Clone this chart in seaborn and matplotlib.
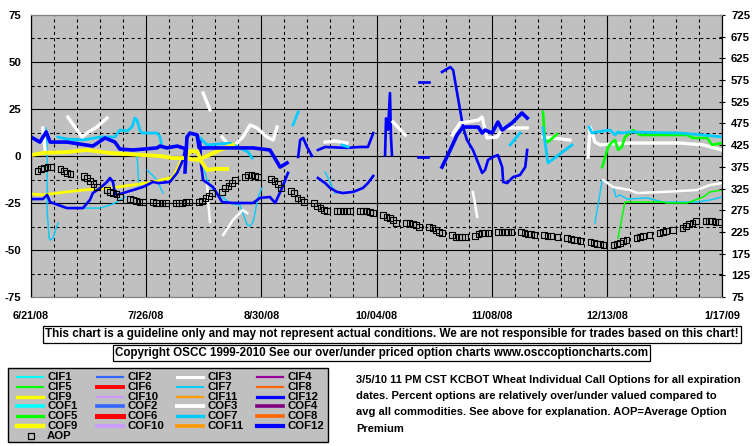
import numpy as np
import pandas as pd
import matplotlib
matplotlib.use("Agg")
import matplotlib.pyplot as plt
import seaborn as sns
from matplotlib.lines import Line2D
from matplotlib.patches import Rectangle

nan = np.nan
start = pd.Timestamp("2008-06-21")

# axis ticks
xtick_days = [0, 35, 70, 105, 140, 175, 210]
xtick_labels = ["6/21/08", "7/26/08", "8/30/08", "10/04/08", "11/08/08", "12/13/08", "1/17/09"]
left_ticks = [-75, -50, -25, 0, 25, 50, 75]
right_ticks = list(range(75, 726, 50))

# series: days since 6/21/08, percent value (nan = break)
cof12_day = [0, 2.7, 4.6, 5.8, 10.9, 18.8, 22.5, 25.5, 27, 31, 38.3, 39.2, 41.3, 44.4, 46.2, nan,
             46.8, 47.4, 48.3, 50.5, 51.1, 51.4, 67.5, 72.6, 74.8, 75.7, 77.8, nan,
             124.9, 127.4, 129.5, 131.3, 135.9, 137.1, 138, 140.1, 141.9, 143.2, 146.2, 149.2, 150.8]
cof12_val = [10.1, 7.4, 12.8, 7.4, 7.4, 5.3, 9.6, 7.4, 3.7, 3.2, 4.3, 5.3, 4.3, 5.3, 4.3, nan,
             -8.5, 10.1, 12.2, 11.2, 4.3, 4.3, 4.3, 3.2, -3.2, -5.9, -3.7, nan,
             -5.9, 3.2, 11.2, 15.4, 15.4, 12.2, 13.8, 12.2, 18.1, 13.8, 17.6, 22.9, 20.2]

cif12_day = [0, 3.6, 4.9, 5.8, 10.9, 15.8, 17.9, 18.8, 21, 23.1, 24, 24.9, 25.5, 26.1, 28, 31, 34,
             37.1, 38.6, 42.2, 44.4, 46.2, 46.8, nan,
             51.4, 51.7, 52.3, 55.3, 58.1, 61.4, 67.5, 69.6, 72.6, 74.2, 76.3, 78.1, nan,
             81.2, 81.8, 82.7, 83.9, 85.4, nan,
             87.2, 89.4, 96, 100, 102.4, 104, nan,
             87.2, 89.4, 90.9, 93, 94.8, 97.9, 100.9, 102.4, 104, nan,
             107.6, 107.9, 108.5, 109.1, 109.4, 109.7, nan,
             117.9, 121, nan, 117.6, 120.7, nan,
             124.9, 127.4, 128.3, 129.5, 130.4, 131.3, 132.5, 134.3, 135.9, 137.1, 138, 138.9, 140.4,
             141.9, 143.2, 143.5, 144.7, 146.5, 148.6, 150.2, 150.8]
cif12_val = [-22.9, -22.9, -20.7, -24.5, -27.7, -27.7, -23.4, -19.7, -17, -13.8, -11.7, -13.8, -19.7,
             -20.7, -19.7, -18.1, -16.5, -13.8, -14.4, -13.8, -9, -2.1, 3.2, nan,
             8.5, -4.8, -12.8, -16.5, -24.5, -25, -25, -22.3, -21.8, -25, -17, -9, nan,
             -0.5, 8.5, 9.6, 4.8, 0, nan,
             3.2, 4.8, 4.3, 4.8, 4.8, 12.2, nan,
             -11.7, -14.4, -17, -19.1, -19.7, -19.1, -17, -14.4, -10.6, nan,
             0.5, 20, 14, 33.5, 10, 0.5, nan,
             39.4, 39.4, nan, -0.5, -0.5, nan,
             44.7, 47.3, 45.7, 33.5, 24.5, 15.4, 8.5, 3.2, -3.7, -9, -7.4, -2.1, -0.5,
             0.5, -5.9, -13.8, -14.4, -11.2, -10.1, -5.9, 3.2]

cof9_day = [0, 3.6, 10.9, 17, 24, 34, 39.2, 43.2, 46.8, 50.5, 53.5, 57.4, 61.4, nan,
            47.4, 48.3, 50.5, 51.4, nan, 51.4, 53.5, 55.9, 59.6]
cof9_val = [0.5, 1.6, 2.1, 3.2, 1.6, 0.5, 0, -1.1, -1.1, -2.1, 0, 3.2, 5.9, nan,
            -0.5, 2.5, 2.5, -1, nan, -2.1, -7.4, -6.9, -6.9]

cif9_day = [0, 3.6, 10.9, 15.8, 24, 31, 37.1, 43.2, 45.3, 46.2, 47.4]
cif9_val = [-20.2, -20.7, -19.1, -18.1, -17, -15.4, -13.8, -11.2, -3.7, -0.5, 1.6]

cof3_day = [3.6, 4.3, nan, 11.2, 15.5, 17, 20, 23.1, nan, 52.3, 54.4, nan,
            58.1, 59.6, 61.4, 64.4, 66.6, 68.7, 71.7, 73.6, 74.8, nan,
            89.4, 92.4, 96, nan, 110, 113.7, nan,
            128, 130.4, 132.5, 135.9, 137.1, 138, 138.6, 141.6, 143.5, 150.8, nan,
            155.6, 163.8, nan,
            169.3, 169.9, 171.4, 173, 176, 182, 197.3, 204.3, 210]
cof3_val = [14.9, 3.2, nan, 20.7, 10.1, 12.2, 15.4, 20.2, nan, 33.5, 24.5, nan,
            10.1, 6.9, 4.8, 10.1, 16.5, 14.9, 10.1, 8.5, 15.4, nan,
            7.4, 8, 6.9, nan, 18.1, 11.2, nan,
            11.2, 17.6, 18.1, 19.1, 20.7, 13.8, 9.6, 10.1, 14.9, 14.9, nan,
            10.1, 8.5, nan,
            -0.5, 15.4, 7.4, 5.9, 6.4, 6.9, 6.9, 5.9, 3.2]

cif3_day = [53.5, 53.8, 54.4, nan, 58.4, 61.4, 64.4, 65.7, nan, 134.3, 135, 135.6, nan,
            173.9, 176.9, 182, 184.2, 192.1, 202.4, 206.4, 210]
cif3_val = [-14.4, -23.4, -35.1, nan, -42, -34, -28.7, -30.3, nan, -19.1, -26, -32.4, nan,
            -12.8, -16.5, -18.1, -19.7, -19.1, -18.1, -15.4, -14.4]

cof7_day = [8.2, 10.9, 15.8, 21, 25.5, 27, 29.2, 30.7, 31.6, 32.2, 33.1, 33.7, 38.3, 39.2, 39.8, nan,
            50.5, 51.4, 53.5, 60.5, 66, 67.2, nan, 79.6, 81.2, nan, 94.5, 96.4, nan,
            145.6, 148.6, nan, 155.6, 157.1, 164.4, nan,
            169.6, 170.5, 172, 176, 177.5, 178.4, 179.6, 182, 197.3, 204.3, 210]
cof7_val = [10.1, 9, 8.5, 10.1, 10.1, 13.8, 13.3, 15.4, 20.2, 19.1, 13.8, 12.2, 12.2, 10.1, 4.8, nan,
            10.1, 9.6, 5.9, 6.9, 2.1, -1.1, nan, 16.5, 23.4, nan, 5.9, 4.8, nan,
            5.9, 12.2, nan, 14.9, -3.7, 5.9, nan,
            15.4, 12.2, 12.8, 13.8, 11.2, 12.8, 12.2, 12.8, 12.2, 11.2, 10.1]

cif7_day = [4.6, 4.9, 4.9, 5.5, 5.8, 6.7, 8.2, nan, 16.4, 21, 24, 25.5, 28.6, nan,
            32.2, 32.8, nan, 35.3, 38.3, 40.1, nan,
            51.9, 53.5, 55.3, 60.5, 63.5, 65.7, 66.6, 67.5, 69, 70.2, nan, 89.4, 92.4, nan,
            171.4, 173.6, 175.1, 176.9, 177.8, 179, 181.2, 187.2, 192.1, 202.4, 206.4, 210]
cif7_val = [14.9, 3.2, -28.7, -43.6, -44.7, -43.6, -35.6, nan, -27.7, -27.7, -26.1, -25, -21.8, nan,
            1.6, -16.5, nan, -7.4, -12.8, -19.7, nan,
            -1.6, -12.8, -18.1, -25, -26.1, -36.7, -37.2, -35.1, -21.8, -17, nan, -8.5, -19.7, nan,
            -35.6, -12.8, -13.8, -16.5, -21.8, -20.7, -22.9, -22.3, -24.5, -24.5, -23.4, -21.8]

cof5_day = [155.6, 156.2, 157.1, 159.9, nan,
            173.6, 175.4, 176.6, 177.5, 178.4, 179.6, 180.5, 183, 185.1, 199.4, 201.2, 205.5, 207, 210]
cof5_val = [23.4, 8.5, 7.4, 11.7, nan,
            -5.9, 4.8, 7.4, 8.5, 3.2, 4.8, 10.1, 13.8, 11.2, 11.2, 9.6, 9.6, 5.9, 6.9]

cif5_day = [178.4, 180.5, 183, 192.1, 193.3, 199.4, 204.3, 206.4, 210]
cif5_val = [-43.6, -24.5, -24.5, -24.5, -25, -25, -21.8, -19.1, -18.1]

# average option premium, one value per trading day from 6/23/08 (right axis)
aop = [365, 370, 373, 375, 375, 370, 365, 361, 358, nan, 354, 349, 342, 335, 329,
       322, 317, 315, 312, 305, 301, 299, 296, 294, 294, 294, 292, 292, 292, 292,
       292, 292, 292, 294, 294, 294, 296, 303, 308, 315, 317, 326, 331, 338, 345,
       352, 356, 356, 354, 352, nan, 347, 342, 335, 326, 319, 315, 303, 299, 294,
       292, 285, 280, 276, 273, 273, 273, 273, 273, 273, 273, 273, 273, 271, 269,
       264, 259, 257, 253, 246, 246, 246, 243, 241, 236, 236, 234, 229, 225, 223,
       218, 213, 213, 213, 213, 216, 220, 223, 223, 223, 225, 225, 225, 225, 225,
       225, 223, 220, 220, 218, 218, 216, 216, nan, 213, 211, 209, 206, 206, 204,
       202, 200, 197, 197, 195, 195, 197, 200, 204, 206, 211, 213, 216, nan, 218,
       223, 225, 227, nan, 229, 234, 239, 243, 246, 250, 250, 250, 250, 248, 248]
aop_dates = pd.bdate_range("2008-06-23", periods=len(aop))

names = ["CIF1", "CIF2", "CIF3", "CIF4", "CIF5", "CIF6", "CIF7", "CIF8", "CIF9", "CIF10", "CIF11", "CIF12",
         "COF1", "COF2", "COF3", "COF4", "COF5", "COF6", "COF7", "COF8", "COF9", "COF10", "COF11", "COF12"]
colors = ["#00FFFF", "#3366FF", "#FFFFFF", "#990099", "#00FF00", "#FF0000", "#00CCFF", "#FF6600",
          "#FFFF00", "#CC99FF", "#FF9900", "#0000FF",
          "#00FFFF", "#3366FF", "#FFFFFF", "#800080", "#00FF00", "#FF0000", "#00CCFF", "#FF6600",
          "#FFFF00", "#CC99FF", "#FF9900", "#0000FF"]
widths = [1.2, 1.2, 1.8, 1.2, 1.1, 2.4, 1.0, 1.2, 2.0, 1.2, 1.2, 1.9,
          2.2, 2.2, 2.4, 2.2, 1.9, 3.2, 2.0, 2.2, 2.8, 2.2, 2.2, 2.6]
style = {n: (c, w) for n, c, w in zip(names, colors, widths)}

traces = {
    "CIF7": (cif7_day, cif7_val), "CIF3": (cif3_day, cif3_val), "CIF5": (cif5_day, cif5_val),
    "CIF9": (cif9_day, cif9_val), "CIF12": (cif12_day, cif12_val),
    "COF3": (cof3_day, cof3_val), "COF5": (cof5_day, cof5_val), "COF7": (cof7_day, cof7_val),
    "COF9": (cof9_day, cof9_val), "COF12": (cof12_day, cof12_val),
}


def segments(days, vals):
    d = pd.DataFrame({"day": days, "val": vals})
    d["seg"] = d["val"].isna().cumsum()
    d = d.dropna()
    d["date"] = start + pd.to_timedelta(d["day"], unit="D")
    return d


plt.rcParams["font.family"] = ["Liberation Sans", "DejaVu Sans"]
plt.rcParams["font.weight"] = "bold"

W, H = 755, 446
fig = plt.figure(figsize=(W / 100, H / 100), dpi=100)
fx = lambda px: px / W
fy = lambda py: 1 - py / H

ax = fig.add_axes([fx(31), fy(297), fx(722 - 31), (297 - 15) / H])
ax.set_facecolor("#C0C0C0")

# grid: weekly verticals (solid every 5 weeks), 12.5 horizontals (solid every 25)
for k in range(31):
    d = start + pd.Timedelta(days=7 * k)
    if k % 5 == 0:
        ax.axvline(d, color="black", lw=0.8, zorder=1)
    else:
        ax.axvline(d, color="black", lw=0.75, ls=(0, (3, 3)), zorder=1)
for v in np.arange(-62.5, 75, 12.5):
    if v % 25 == 0:
        ax.axhline(v, color="black", lw=0.8, zorder=1)
    else:
        ax.axhline(v, color="black", lw=0.75, ls=(0, (3, 3)), zorder=1)

for name, (days, vals) in traces.items():
    c, w = style[name]
    sns.lineplot(data=segments(days, vals), x="date", y="val", units="seg", estimator=None,
                 sort=False, color=c, linewidth=w, ax=ax, legend=False, zorder=3)

ax.set_xlim(start, start + pd.Timedelta(days=210))
ax.set_ylim(-75, 75)
ax.set_yticks(left_ticks)
ax.set_yticklabels([str(t) for t in left_ticks])
ax.set_xticks([start + pd.Timedelta(days=d) for d in xtick_days])
ax.set_xticklabels(xtick_labels)
ax.tick_params(axis="y", length=0, pad=7, labelsize=8.2)
ax.tick_params(axis="x", length=0, pad=10, labelsize=7.8)
ax.set_xlabel("")
ax.set_ylabel("")

ax2 = ax.twinx()
sns.scatterplot(x=aop_dates, y=aop, marker="s", s=17, color="black", ax=ax2, legend=False, zorder=4)
ax2.collections[0].set_facecolor("none")
ax2.collections[0].set_edgecolor("black")
ax2.collections[0].set_linewidth(0.8)
ax2.set_ylim(75, 725)
ax2.set_yticks(right_ticks)
ax2.tick_params(axis="y", direction="inout", length=5, width=0.8, pad=4, labelsize=8.2)
ax2.set_xlim(start, start + pd.Timedelta(days=210))
ax2.set_ylabel("")

for a in (ax, ax2):
    a.spines["top"].set_color("#808080")
    a.spines["bottom"].set_color("#808080")
    a.spines["left"].set_color("black")
    a.spines["right"].set_color("black")

# notes under the chart
fig.text(fx(392), fy(334.5),
         "This chart is a guideline only and may not represent actual conditions. "
         "We are not responsible for trades based on this chart!",
         ha="center", va="center", fontsize=8.4,
         bbox=dict(boxstyle="square,pad=0.2", fc="white", ec="black", lw=0.9))
fig.text(fx(381.5), fy(353),
         "Copyright OSCC 1999-2010 See our over/under priced option charts www.osccoptioncharts.com",
         ha="center", va="center", fontsize=8.4,
         bbox=dict(boxstyle="square,pad=0.2", fc="white", ec="black", lw=0.9))
fig.text(fx(356), fy(375),
         "3/5/10 11 PM CST KCBOT Wheat Individual Call Options for all expiration\n"
         "dates. Percent options are relatively over/under valued compared to\n"
         "avg all commodities. See above for explanation. AOP=Average Option\n"
         "Premium",
         ha="left", va="top", fontsize=8.0, linespacing=1.78)

# legend box
fig.add_artist(Rectangle((fx(8), fy(442)), fx(328 - 8), (442 - 368) / H,
                         transform=fig.transFigure, fc="#C0C0C0", ec="black", lw=1))
for i, name in enumerate(names + ["AOP"]):
    row, col = divmod(i, 4)
    x0 = 17 + 80 * col
    y0 = 377 + 9.8 * row
    if name == "AOP":
        fig.add_artist(Line2D([fx(31)], [fy(y0)], transform=fig.transFigure, marker="s",
                              ms=4.5, mfc="none", mec="black", mew=0.9))
    else:
        c, w = style[name]
        fig.add_artist(Line2D([fx(x0), fx(x0 + 26)], [fy(y0), fy(y0)],
                              transform=fig.transFigure, color=c, lw=w + 0.4))
    fig.text(fx(x0 + 30), fy(y0), name, ha="left", va="center", fontsize=8.2)

fig.savefig("out.png", dpi=100)
